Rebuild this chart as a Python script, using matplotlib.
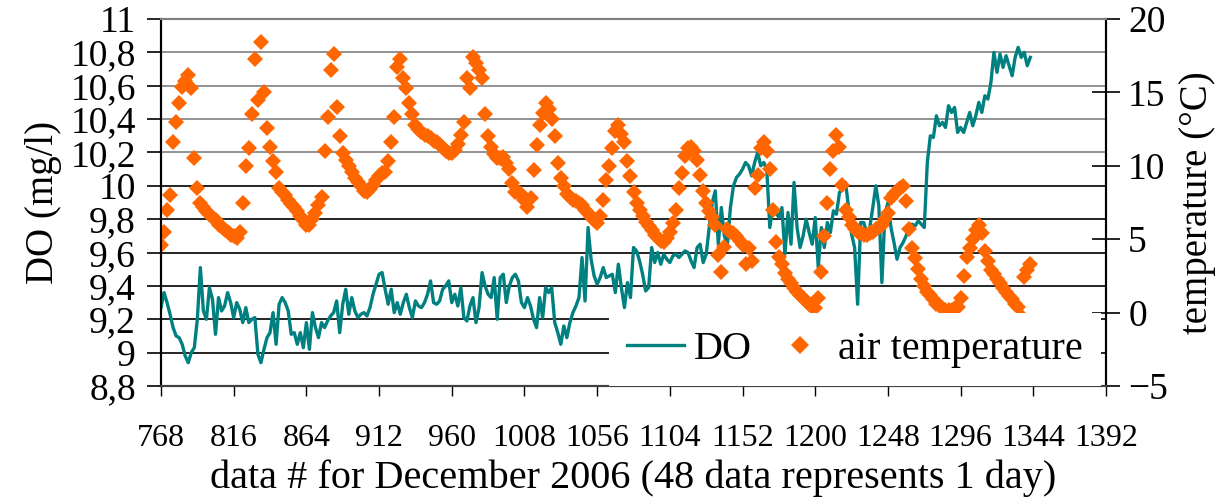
import numpy as np
import matplotlib
matplotlib.use("Agg")
import matplotlib.pyplot as plt
from matplotlib.ticker import FuncFormatter

# ---- data (every 2nd data point) ----------------------------------------
DATA_START = 768
DATA_STEP = 2

do_mgl = [
    9.27, 9.36, 9.30, 9.23, 9.15, 9.10, 9.09, 9.05, 8.98, 8.94, 9.00, 9.03,
    9.20, 9.51, 9.25, 9.20, 9.39, 9.32, 9.11, 9.33, 9.25, 9.28, 9.36, 9.30,
    9.21, 9.30, 9.26, 9.18, 9.27, 9.18, 9.20, 9.21, 8.99, 8.94, 9.02, 9.09,
    9.12, 9.24, 9.05, 9.29, 9.33, 9.30, 9.25, 9.11, 9.12, 9.05, 9.12, 9.03,
    9.18, 9.02, 9.24, 9.15, 9.09, 9.18, 9.15, 9.19, 9.22, 9.24, 9.31, 9.12,
    9.29, 9.38, 9.23, 9.33, 9.25, 9.21, 9.23, 9.24, 9.22, 9.27, 9.35, 9.41,
    9.47, 9.48, 9.38, 9.29, 9.38, 9.24, 9.30, 9.23, 9.30, 9.35, 9.27, 9.21,
    9.31, 9.28, 9.27, 9.30, 9.35, 9.43, 9.30, 9.29, 9.31, 9.38, 9.40, 9.43,
    9.30, 9.35, 9.28, 9.39, 9.21, 9.19, 9.28, 9.33, 9.18, 9.27, 9.48, 9.40,
    9.35, 9.33, 9.45, 9.20, 9.45, 9.47, 9.30, 9.40, 9.45, 9.47, 9.43, 9.30,
    9.27, 9.33, 9.28, 9.20, 9.15, 9.33, 9.21, 9.39, 9.36, 9.39, 9.18, 9.12,
    9.05, 9.16, 9.09, 9.18, 9.24, 9.28, 9.33, 9.57, 9.31, 9.75, 9.56, 9.46,
    9.41, 9.45, 9.51, 9.45, 9.46, 9.47, 9.36, 9.53, 9.39, 9.27, 9.42, 9.33,
    9.63, 9.61, 9.55, 9.47, 9.37, 9.39, 9.63, 9.54, 9.60, 9.53, 9.59, 9.56,
    9.54, 9.58, 9.59, 9.57, 9.59, 9.61, 9.60, 9.55, 9.51, 9.63, 9.65, 9.54,
    9.59, 9.75, 9.90, 9.97, 9.65, 9.87, 9.70, 9.65, 9.87, 10.00, 10.05, 10.07,
    10.10, 10.14, 10.12, 10.06, 10.14, 10.20, 10.12, 10.14, 10.10, 9.75, 9.87, 9.84,
    9.81, 9.87, 9.59, 9.84, 9.65, 10.02, 9.75, 9.63, 9.70, 9.80, 9.72, 9.65,
    9.81, 9.51, 9.75, 9.63, 9.78, 9.72, 9.85, 9.83, 9.96, 9.98, 10.02, 9.87,
    9.71, 9.63, 9.29, 9.78, 9.78, 9.72, 9.75, 9.87, 10.00, 9.88, 9.42, 9.83,
    9.90, 9.75, 9.66, 9.56, 9.63, 9.66, 9.70, 9.76, 9.77, 9.76, 9.79, 9.77,
    9.75, 10.14, 10.30, 10.29, 10.42, 10.36, 10.38, 10.35, 10.48, 10.44, 10.47, 10.32,
    10.35, 10.32, 10.38, 10.44, 10.36, 10.42, 10.50, 10.44, 10.54, 10.52, 10.62, 10.80,
    10.68, 10.79, 10.71, 10.78, 10.72, 10.66, 10.77, 10.83, 10.77, 10.80, 10.72, 10.77,
]

air_temp = [
    4.6, 5.5, 7.0, 8.0, 11.6, 13.0, 14.3, 15.4, 15.8, 16.2, 15.3, 10.5,
    8.5, 7.5, 7.2, 6.9, 6.7, 6.5, 6.3, 6.0, 5.8, 5.6, 5.5, 5.3,
    5.2, 5.1, 5.5, 7.5, 10.0, 11.2, 13.5, 17.3, 14.5, 18.4, 15.0, 12.6,
    11.3, 10.3, 9.6, 8.5, 8.2, 8.0, 7.7, 7.4, 7.2, 6.9, 6.6, 6.3,
    6.0, 6.0, 6.4, 6.8, 7.3, 7.9, 11.0, 13.3, 16.5, 17.6, 14.0, 12.0,
    10.9, 10.4, 10.0, 9.6, 9.2, 8.9, 8.6, 8.3, 8.2, 8.4, 8.7, 9.0,
    9.3, 9.5, 9.6, 10.3, 11.6, 13.3, 16.7, 17.3, 16.0, 15.3, 14.3, 13.5,
    12.8, 12.5, 12.3, 12.1, 12.0, 11.9, 11.7, 11.6, 11.4, 11.2, 11.0, 10.9,
    10.9, 11.1, 11.5, 12.1, 13.0, 16.0, 15.3, 17.4, 17.0, 16.5, 16.0, 13.5,
    12.0, 11.3, 10.8, 10.5, 10.5, 10.6, 10.2, 9.8, 8.8, 8.2, 8.2, 8.1,
    7.7, 7.2, 7.8, 9.7, 11.4, 12.8, 13.6, 14.3, 13.9, 13.2, 12.0, 10.2,
    9.2, 8.6, 8.1, 7.9, 7.7, 7.6, 7.5, 7.3, 7.0, 6.8, 6.5, 6.3,
    6.1, 6.6, 7.7, 9.0, 10.0, 11.2, 12.4, 12.8, 12.2, 11.6, 10.3, 9.3,
    8.2, 7.5, 7.0, 6.6, 6.2, 5.9, 5.6, 5.3, 5.1, 4.9, 4.8, 5.1,
    5.5, 6.1, 7.0, 8.5, 9.5, 10.7, 11.2, 11.3, 11.0, 10.4, 9.4, 8.3,
    7.5, 6.9, 6.5, 6.0, 3.9, 2.8, 4.5, 5.7, 5.5, 5.4, 5.2, 4.9,
    4.6, 3.3, 4.4, 3.5, 8.5, 9.4, 11.2, 11.6, 11.0, 9.8, 7.0, 4.8,
    3.8, 3.3, 2.7, 2.3, 2.0, 1.7, 1.4, 1.2, 1.0, 0.8, 0.6, 0.4,
    0.3, 1.0, 2.8, 5.2, 7.5, 9.8, 11.0, 12.1, 11.3, 8.7, 7.0, 6.5,
    6.0, 5.7, 5.5, 5.4, 5.3, 5.3, 5.4, 5.5, 5.7, 5.8, 6.0, 6.4,
    6.8, 7.8, 8.1, 8.3, 8.5, 8.6, 7.6, 5.7, 4.4, 3.7, 3.0, 2.3,
    1.8, 1.4, 1.2, 0.9, 0.6, 0.5, 0.3, 0.2, 0.2, 0.2, 0.3, 0.4,
    1.0, 2.5, 3.8, 4.4, 5.0, 5.6, 6.0, 5.4, 4.2, 3.5, 2.9, 2.6,
    2.3, 2.0, 1.7, 1.4, 1.1, 0.9, 0.6, 0.4, -0.2, 2.4, 2.9, 3.3,
]

x_ticks = list(range(768, 1393, 48))
do_ticks = [8.8, 9.0, 9.2, 9.4, 9.6, 9.8, 10.0, 10.2, 10.4, 10.6, 10.8, 11.0]
temp_ticks = [-5, 0, 5, 10, 15, 20]

TEAL = "#008080"
ORANGE = "#ff6600"
FONT = ["Liberation Serif", "DejaVu Serif"]

plt.rcParams.update({"font.family": FONT, "font.size": 24})

data_no = np.arange(len(do_mgl)) * DATA_STEP + DATA_START

fig = plt.figure(figsize=(12.27, 5.04), dpi=100)
ax = fig.add_axes([0.1312, 0.2341, 0.7702, 0.7282])
ax2 = ax.twinx()

# horizontal grid drawn by hand: upper lines grey, lower lines black
for v in do_ticks[1:-1]:
    ax.axhline(v, color="#7f7f7f" if v > 10.1 else "#000000", lw=1.2, zorder=0)

ax.plot(data_no, do_mgl, color=TEAL, lw=2.4, label="DO", zorder=2)
ax2.plot(data_no, air_temp, ls="none", marker="D", ms=8.5, mew=0,
         color=ORANGE, label="air temperature")

ax.set_xlim(768, 1392)
ax.set_ylim(8.8, 11.0)
ax2.set_ylim(-5, 20)
ax.set_xticks(x_ticks)
ax.set_yticks(do_ticks)
ax2.set_yticks(temp_ticks)
ax.yaxis.set_major_formatter(FuncFormatter(lambda v, p: f"{v:g}".replace(".", ",")))

ax.tick_params(axis="y", direction="out", length=10, width=1.2, pad=8, labelsize=27)
ax.tick_params(axis="x", direction="out", length=7, width=1, pad=20, labelsize=23)
ax2.tick_params(axis="y", direction="inout", length=20, width=1.2, pad=6, labelsize=27)

for a in (ax, ax2):
    a.spines["top"].set_color("#7f7f7f")
    a.spines["top"].set_linewidth(1.5)
    a.spines["bottom"].set_color("#404040")
    a.spines["bottom"].set_linewidth(1.5)
    a.spines["left"].set_linewidth(1.5)
    a.spines["right"].set_linewidth(1.5)

ax.set_xlabel("data # for December 2006 (48 data represents 1 day)", fontsize=29, labelpad=5)
ax.set_ylabel("DO (mg/l)", fontsize=28, labelpad=6)
ax2.set_ylabel("temperature (°C)", fontsize=28, labelpad=8)

h1, l1 = ax.get_legend_handles_labels()
h2, l2 = ax2.get_legend_handles_labels()
leg = ax2.legend(h1 + h2, l1 + l2, loc="lower right", bbox_to_anchor=(0.995, 0.0),
                 ncol=2, fontsize=29, frameon=True, facecolor="white",
                 edgecolor="none", framealpha=1, fancybox=False,
                 borderaxespad=0.0, handlelength=1.4, columnspacing=0.5,
                 handletextpad=0.25, markerscale=1.1, borderpad=0.45)

fig.savefig("out.png", dpi=100)
